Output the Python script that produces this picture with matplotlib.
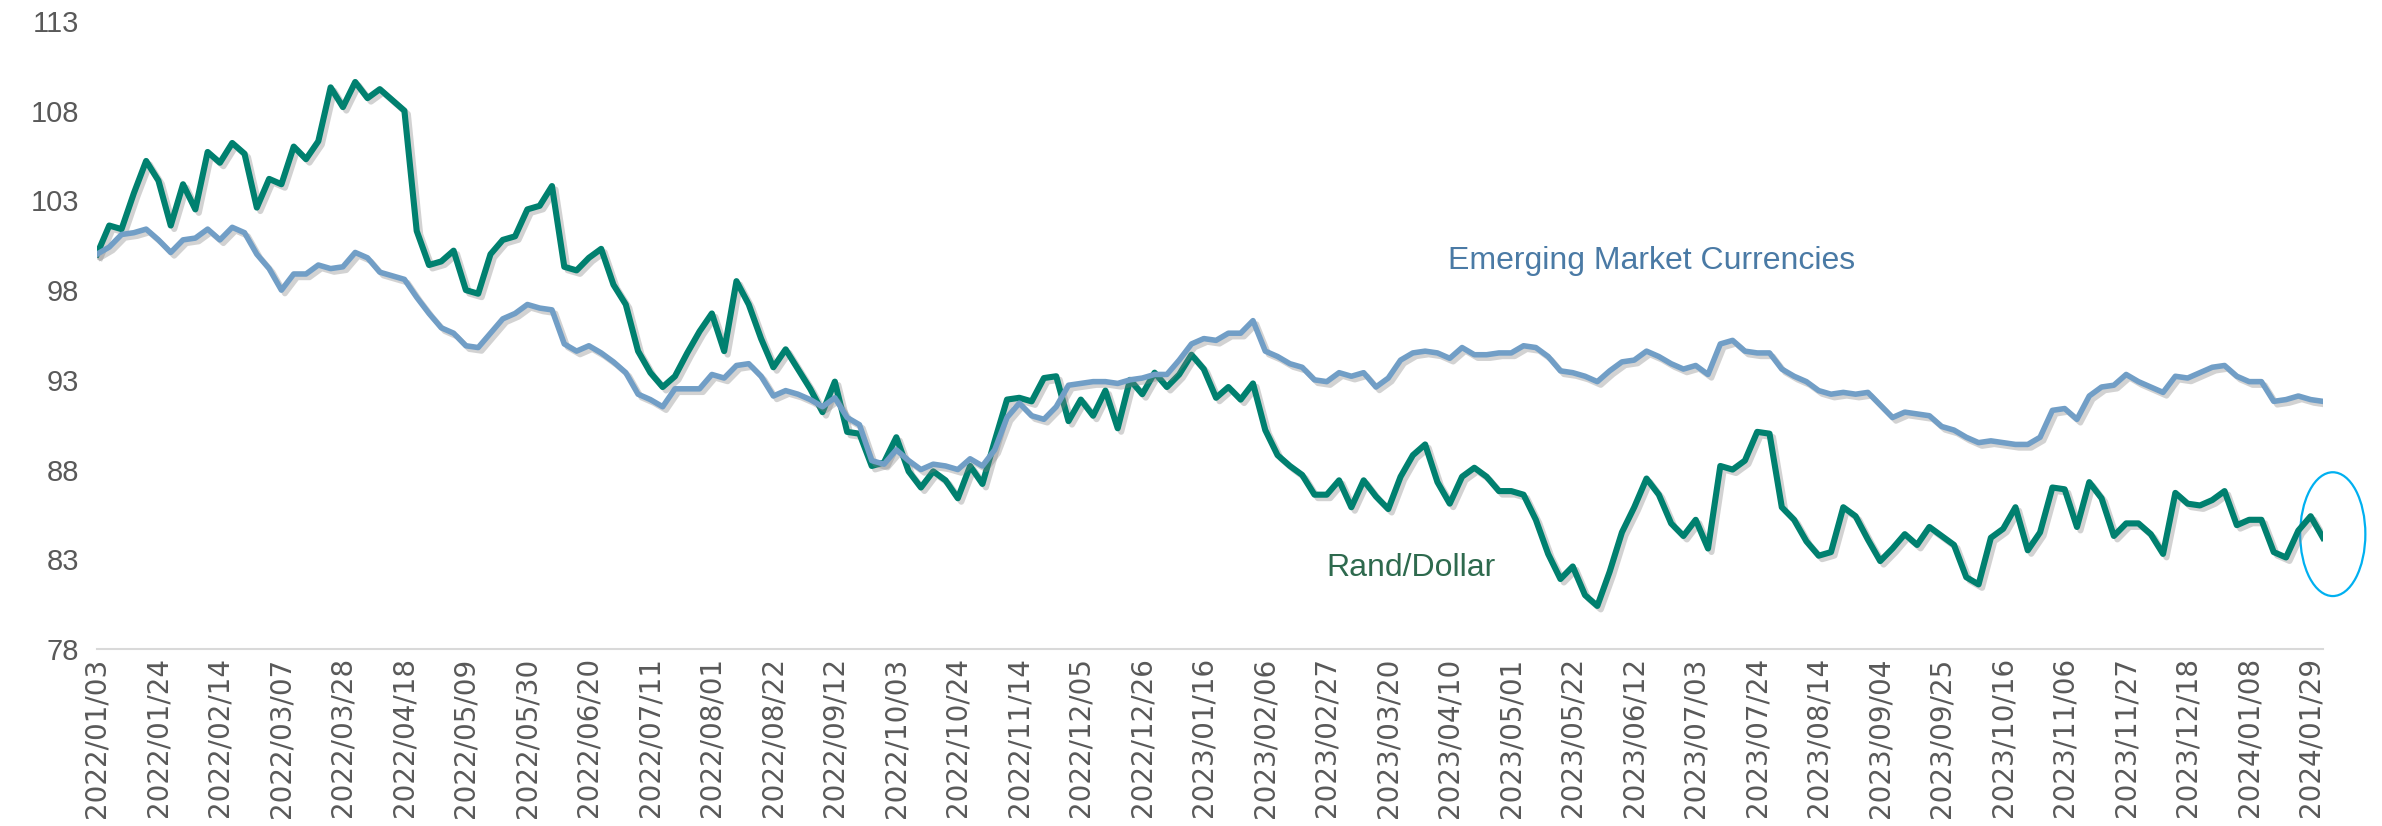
import matplotlib
matplotlib.use("Agg")
import matplotlib.pyplot as plt
import matplotlib.patheffects as pe
from matplotlib.patches import Ellipse
import numpy as np
import pandas as pd

# business days 2022/01/03 .. 2024/02/01, values read every 3rd business day
start_date = "2022-01-03"
n_days = 544
step = 3

rand_dollar = [
    100.0, 101.6, 101.4, 103.4, 105.2, 104.1, 101.6, 103.9, 102.5, 105.7,
    105.1, 106.2, 105.6, 102.6, 104.2, 103.9, 106.0, 105.3, 106.3, 109.3,
    108.2, 109.6, 108.7, 109.2, 108.6, 108.0, 101.3, 99.4, 99.6, 100.2,
    98.0, 97.8, 100.0, 100.8, 101.0, 102.5, 102.7, 103.8, 99.3, 99.1,
    99.8, 100.3, 98.3, 97.2, 94.6, 93.4, 92.6, 93.2, 94.5, 95.7,
    96.7, 94.6, 98.5, 97.2, 95.3, 93.7, 94.7, 93.6, 92.5, 91.2,
    92.9, 90.1, 90.0, 88.2, 88.4, 89.8, 87.9, 87.0, 87.9, 87.4,
    86.4, 88.2, 87.2, 89.6, 91.9, 92.0, 91.8, 93.1, 93.2, 90.7,
    91.9, 91.0, 92.4, 90.3, 93.0, 92.2, 93.4, 92.6, 93.3, 94.4,
    93.6, 92.0, 92.6, 91.9, 92.8, 90.2, 88.8, 88.2, 87.7, 86.6,
    86.6, 87.4, 85.9, 87.4, 86.5, 85.8, 87.6, 88.8, 89.4, 87.3,
    86.1, 87.6, 88.1, 87.6, 86.8, 86.8, 86.6, 85.2, 83.3, 81.9,
    82.6, 81.0, 80.4, 82.3, 84.5, 85.9, 87.5, 86.6, 85.0, 84.3,
    85.2, 83.6, 88.2, 88.0, 88.5, 90.1, 90.0, 85.9, 85.2, 84.0,
    83.2, 83.4, 85.9, 85.4, 84.1, 82.9, 83.6, 84.4, 83.8, 84.8,
    84.3, 83.8, 82.0, 81.6, 84.2, 84.7, 85.9, 83.5, 84.5, 87.0,
    86.9, 84.8, 87.3, 86.4, 84.3, 85.0, 85.0, 84.4, 83.3, 86.7,
    86.1, 86.0, 86.3, 86.8, 84.9, 85.2, 85.2, 83.4, 83.1, 84.6,
    85.4, 84.2,
]

em_currencies = [
    100.0, 100.4, 101.1, 101.2, 101.4, 100.8, 100.1, 100.8, 100.9, 101.4,
    100.8, 101.5, 101.2, 100.0, 99.2, 98.0, 98.9, 98.9, 99.4, 99.2,
    99.3, 100.1, 99.8, 99.0, 98.8, 98.6, 97.6, 96.7, 95.9, 95.6,
    94.9, 94.8, 95.6, 96.4, 96.7, 97.2, 97.0, 96.9, 95.0, 94.6,
    94.9, 94.5, 94.0, 93.4, 92.2, 91.9, 91.5, 92.5, 92.5, 92.5,
    93.3, 93.1, 93.8, 93.9, 93.2, 92.1, 92.4, 92.2, 91.9, 91.5,
    92.0, 90.9, 90.5, 88.5, 88.3, 89.1, 88.5, 88.0, 88.3, 88.2,
    88.0, 88.6, 88.2, 89.1, 90.9, 91.7, 91.0, 90.8, 91.5, 92.7,
    92.8, 92.9, 92.9, 92.8, 93.0, 93.1, 93.3, 93.3, 94.1, 95.0,
    95.3, 95.2, 95.6, 95.6, 96.3, 94.6, 94.3, 93.9, 93.7, 93.0,
    92.9, 93.4, 93.2, 93.4, 92.6, 93.1, 94.1, 94.5, 94.6, 94.5,
    94.2, 94.8, 94.4, 94.4, 94.5, 94.5, 94.9, 94.8, 94.3, 93.5,
    93.4, 93.2, 92.9, 93.5, 94.0, 94.1, 94.6, 94.3, 93.9, 93.6,
    93.8, 93.3, 95.0, 95.2, 94.6, 94.5, 94.5, 93.6, 93.2, 92.9,
    92.4, 92.2, 92.3, 92.2, 92.3, 91.6, 90.9, 91.2, 91.1, 91.0,
    90.4, 90.2, 89.8, 89.5, 89.6, 89.5, 89.4, 89.4, 89.8, 91.3,
    91.4, 90.8, 92.1, 92.6, 92.7, 93.3, 92.9, 92.6, 92.3, 93.2,
    93.1, 93.4, 93.7, 93.8, 93.2, 92.9, 92.9, 91.8, 91.9, 92.1,
    91.9, 91.8,
]

y_ticks = [78, 83, 88, 93, 98, 103, 108, 113]

dates = pd.bdate_range(start_date, periods=n_days)
x = np.arange(0, n_days, step)
tick_pos = np.arange(0, n_days, 15)
tick_labels = [d.strftime("%Y/%m/%d") for d in dates[tick_pos]]

green = "#00806f"
blue = "#719ec6"
shadow = [pe.SimpleLineShadow(offset=(2.5, -2.5), shadow_color="gray", alpha=0.35), pe.Normal()]

fig = plt.figure(figsize=(23.82, 8.26), dpi=100)
ax = fig.add_axes([0.0407, 0.2143, 0.9345, 0.7603])

ax.plot(x, rand_dollar, color=green, lw=4.4, solid_joinstyle="round", path_effects=shadow)
ax.plot(x, em_currencies, color=blue, lw=4.0, solid_joinstyle="round", path_effects=shadow)

ax.text(329.5, 99.6, "Emerging Market Currencies", color="#4a7aa5", fontsize=23,
        family="Liberation Sans", va="center", ha="left")
ax.text(300, 82.5, "Rand/Dollar", color="#2e6a4e", fontsize=23,
        family="Liberation Sans", va="center", ha="left")

ax.add_patch(Ellipse((545.4, 84.4), 15.9, 6.9, fill=False, edgecolor="#00b0f0",
                     lw=1.6, clip_on=False))

ax.set_xlim(0, n_days - 1)
ax.set_ylim(78, 113)
ax.set_yticks(y_ticks)
ax.set_yticklabels([str(v) for v in y_ticks], family="Liberation Sans", fontsize=21, color="#595959")
ax.set_xticks(tick_pos)
ax.set_xticklabels(tick_labels, rotation=90, family="DejaVu Sans", fontsize=20, color="#595959")
ax.tick_params(axis="y", length=0, pad=13)
ax.tick_params(axis="x", length=0, pad=6)

for s in ["top", "right", "left"]:
    ax.spines[s].set_visible(False)
ax.spines["bottom"].set_color("#d9d9d9")
ax.spines["bottom"].set_linewidth(1.5)

fig.savefig("out.png", dpi=100)
